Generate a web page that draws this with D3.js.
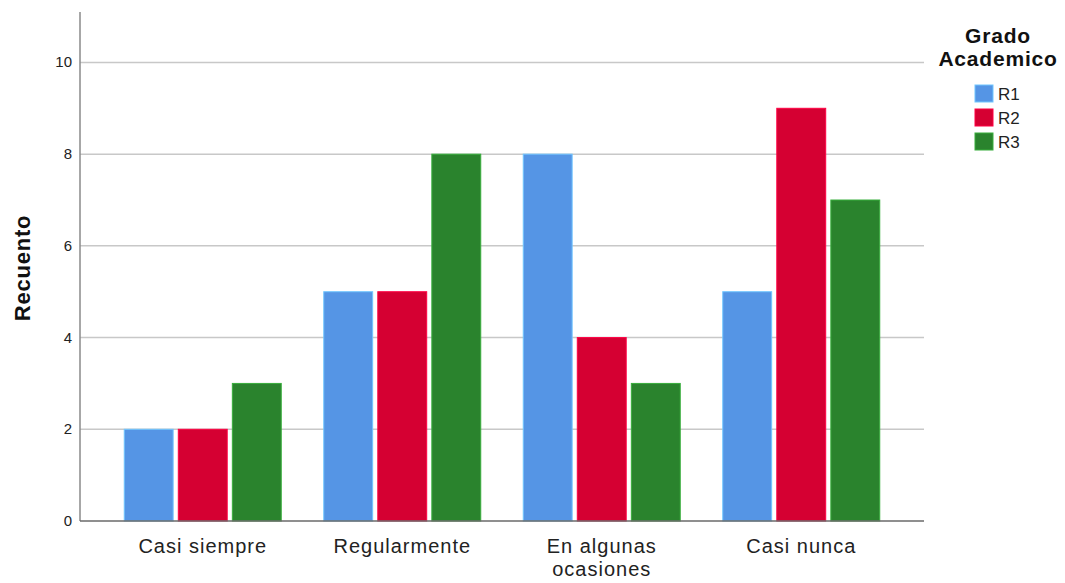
<!DOCTYPE html>
<html>
<head>
<meta charset="utf-8">
<script src="https://cdn.jsdelivr.net/npm/d3@7"></script>
<style>
  body { margin: 0; background: #fff; }
  text { font-family: Arial, "Liberation Sans", sans-serif; }
</style>
</head>
<body>
<svg id="chart" width="1065" height="583"></svg>
<script>
// data
const categories = ["Casi siempre", "Regularmente", "En algunas ocasiones", "Casi nunca"];
const series = ["R1", "R2", "R3"];
const r1 = [2, 5, 8, 5];
const r2 = [2, 5, 4, 9];
const r3 = [3, 8, 3, 7];
const yTicks = [0, 2, 4, 6, 8, 10];
const colors = ["#5595e5", "#d50032", "#2a832d"];

const values = [r1, r2, r3];
const svg = d3.select("#chart");

const plot = { left: 80, right: 924, top: 12, bottom: 521 };

const x = d3.scaleBand()
  .domain(categories)
  .range([103, 901]);

const xs = d3.scaleBand()
  .domain(series)
  .range([0, 157])
  .paddingInner(0.095);

const y = d3.scaleLinear()
  .domain([0, 11.1])
  .range([plot.bottom, plot.top]);

// grid lines
svg.append("g")
  .selectAll("line")
  .data(yTicks.filter(d => d > 0))
  .join("line")
  .attr("x1", plot.left)
  .attr("x2", plot.right)
  .attr("y1", d => y(d))
  .attr("y2", d => y(d))
  .attr("stroke", "#c8c8c8")
  .attr("stroke-width", 1.5);

// y tick labels
svg.append("g")
  .selectAll("text")
  .data(yTicks)
  .join("text")
  .attr("x", 72)
  .attr("y", d => y(d) + 5)
  .attr("text-anchor", "end")
  .attr("font-size", 15)
  .attr("fill", "#222")
  .text(d => d);

// bars
const groups = svg.append("g")
  .selectAll("g")
  .data(categories)
  .join("g")
  .attr("transform", d => "translate(" + (x(d) + (x.bandwidth() - 157) / 2) + ",0)");

groups.selectAll("rect")
  .data((d, i) => series.map((s, j) => ({ s: s, j: j, v: values[j][i] })))
  .join("rect")
  .attr("x", d => xs(d.s))
  .attr("width", xs.bandwidth())
  .attr("y", d => y(d.v))
  .attr("height", d => y(0) - y(d.v))
  .attr("fill", d => colors[d.j])
  .attr("stroke", d => d3.color(colors[d.j]).brighter(0.8))
  .attr("stroke-width", 1);

// axes lines
svg.append("line")
  .attr("x1", plot.left).attr("x2", plot.left)
  .attr("y1", plot.top).attr("y2", plot.bottom)
  .attr("stroke", "#8a8a8a").attr("stroke-width", 1.5);
svg.append("line")
  .attr("x1", plot.left).attr("x2", plot.right)
  .attr("y1", plot.bottom).attr("y2", plot.bottom)
  .attr("stroke", "#6a6a6a").attr("stroke-width", 1.5);

// x labels
const xl = svg.append("g")
  .selectAll("text")
  .data(categories)
  .join("text")
  .attr("x", d => x(d) + x.bandwidth() / 2)
  .attr("y", 553)
  .attr("text-anchor", "middle")
  .attr("font-size", 20)
  .attr("letter-spacing", 1)
  .attr("fill", "#222");
xl.each(function (d) {
  const lines = d === "En algunas ocasiones" ? ["En algunas", "ocasiones"] : [d];
  d3.select(this).selectAll("tspan")
    .data(lines)
    .join("tspan")
    .attr("x", x(d) + x.bandwidth() / 2)
    .attr("dy", (l, i) => i === 0 ? 0 : 23)
    .text(l => l);
});

// y title
svg.append("text")
  .attr("transform", "translate(30,268) rotate(-90)")
  .attr("text-anchor", "middle")
  .attr("font-size", 22)
  .attr("letter-spacing", 0.8)
  .attr("font-weight", "bold")
  .attr("fill", "#111")
  .text("Recuento");

// legend
const legend = svg.append("g");
legend.append("text")
  .attr("x", 998).attr("y", 43)
  .attr("text-anchor", "middle")
  .attr("font-size", 21).attr("letter-spacing", 0.8)
  .attr("font-weight", "bold").attr("fill", "#111")
  .selectAll("tspan")
  .data(["Grado", "Academico"])
  .join("tspan")
  .attr("x", 998)
  .attr("dy", (d, i) => i === 0 ? 0 : 23)
  .text(d => d);

const items = legend.selectAll("g.item")
  .data(series)
  .join("g")
  .attr("class", "item")
  .attr("transform", (d, i) => "translate(975," + (85 + i * 24) + ")");
items.append("rect")
  .attr("width", 18).attr("height", 17)
  .attr("fill", (d, i) => colors[i])
  .attr("stroke", (d, i) => d3.color(colors[i]).brighter(0.8));
items.append("text")
  .attr("x", 23).attr("y", 15)
  .attr("font-size", 17).attr("fill", "#222")
  .text(d => d);
</script>
</body>
</html>
